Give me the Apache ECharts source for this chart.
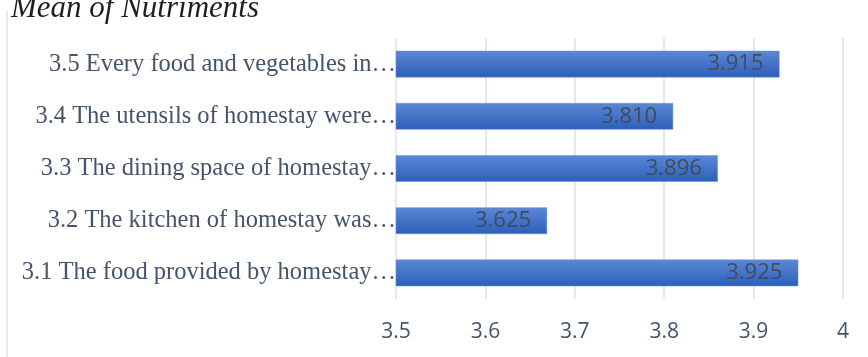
<!DOCTYPE html>
<html><head><meta charset="utf-8">
<script src="https://cdn.jsdelivr.net/npm/echarts@6/dist/echarts.min.js"></script>
<style>html,body{margin:0;padding:0;background:#fff}#c{width:868px;height:357px}</style>
</head><body><div id="c"></div>
<script>
// bottom-to-top order (category axis starts at bottom)
const categories = [
  "3.1 The food provided by homestay…",
  "3.2 The kitchen of homestay was…",
  "3.3 The dining space of homestay…",
  "3.4 The utensils of homestay were…",
  "3.5 Every food and vegetables in…"
];
const barValues = [3.950, 3.669, 3.860, 3.810, 3.929];
const labelTexts = ["3.925", "3.625", "3.896", "3.810", "3.915"];
const axisMin = 3.5, axisMax = 4, axisStep = 0.1;

const chart = echarts.init(document.getElementById('c'), null, {renderer: 'canvas'});
chart.setOption({
  animation: false,
  title: {
    text: 'Mean of Nutriments', left: 6, top: -12,
    textStyle: {fontFamily: 'Liberation Serif', fontStyle: 'italic', fontWeight: 'normal', fontSize: 31, color: '#1f1f1f'}
  },
  graphic: [{type: 'line', shape: {x1: 7, y1: 11, x2: 7, y2: 357}, style: {stroke: '#dde1e7', lineWidth: 1.5}}],
  grid: {left: 396, right: 25, top: 38, bottom: 58},
  xAxis: {
    type: 'value', min: axisMin, max: axisMax, interval: axisStep,
    axisLine: {show: false}, axisTick: {show: false},
    splitLine: {show: true, lineStyle: {color: '#dde1e8', width: 1.5}},
    axisLabel: {formatter: v => String(+v.toFixed(1)), fontFamily: 'Open Sans', fontSize: 21, color: '#44546a', margin: 23}
  },
  yAxis: {
    type: 'category', data: categories,
    axisLine: {show: false}, axisTick: {show: false},
    axisLabel: {fontFamily: 'Liberation Serif', fontSize: 24.5, color: '#44546a', margin: 0, padding: [4, 0, 0, 0]}
  },
  series: [{
    type: 'bar', data: barValues, barWidth: '51%',
    itemStyle: {
      color: new echarts.graphic.LinearGradient(0, 0, 0, 1, [
        {offset: 0, color: '#5b87d5'}, {offset: 1, color: '#2d5fb9'}
      ]),
      borderColor: '#6b93d8', borderWidth: 0.5
    },
    label: {
      show: true, position: 'insideRight', distance: 16,
      formatter: p => labelTexts[p.dataIndex],
      fontFamily: 'Open Sans', fontSize: 22, color: '#404b5c'
    }
  }]
});
</script></body></html>
